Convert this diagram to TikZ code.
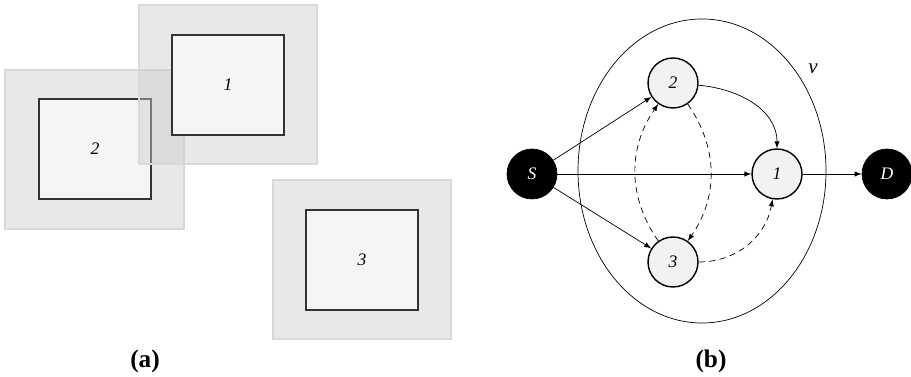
\documentclass[tikz,border=0pt]{standalone}
\usepackage{fontspec}
\setmainfont{Liberation Serif}
\usetikzlibrary{arrows,arrows.meta,positioning}

\tikzset{
    zona/.style={draw=black!15, fill=black!20, fill opacity=0.45, line width=0.6pt},
    cella/.style={draw=black!80, fill=black!4, line width=0.7pt},
    nodo/.style={draw, circle, thick, minimum size=1.0cm, inner sep=0pt, fill=black!5, font=\itshape},
    estremo/.style={draw, circle, minimum size=1.0cm, inner sep=0pt, fill=black, text=white, font=\itshape},
    tratto/.style={->, dashed, dash pattern=on 3.5pt off 2.5pt}
}

\begin{document}
\begin{tikzpicture}[>=latex, x=0.02cm, y=-0.02cm]
    \useasboundingbox (0,0) rectangle (911,377);

    % (a) Zona della cella 2
    \fill[zona] (5,70) rectangle (184,229);
    \node[cella, minimum width=2.24cm, minimum height=2.0cm] (c2) at (95,149) {};
    \node[font=\itshape] at (c2) {2};

    % (a) Zona della cella 1 (sovrapposta alla 2)
    \fill[zona] (139,5) rectangle (317,164);
    \node[cella, minimum width=2.24cm, minimum height=2.0cm] (c1) at (228,85) {};
    \node[font=\itshape] at (c1) {1};

    % (a) Zona della cella 3
    \fill[zona] (273,180) rectangle (451,339);
    \node[cella, minimum width=2.24cm, minimum height=2.0cm] (c3) at (362,260) {};
    \node[font=\itshape] at (c3) {3};

    \node[font=\bfseries\Large] (capa) at (145,361) {(a)};

    % (b) Insieme v
    \draw[thin] (702,171) ellipse (124 and 152);
    \node[font=\itshape\large] (v) at (813,69) {v};

    % (b) Sorgente, destinazione e nodi intermedi
    \node[estremo] (S) at (532,174) {S};
    \node[estremo] (D) at (887,174) {D};
    \node[nodo] (n2) at (673,83) {2};
    \node[nodo] (n1) at (777,174) {1};
    \node[nodo] (n3) at (673,262) {3};

    % Collegamenti diretti
    \draw[->] (S) -- (n2);
    \draw[->] (S) -- (n3);
    \draw[->] (S) -- (n1);
    \draw[->] (n1) -- (D);
    \draw[->] (n2) to[out=-5, in=90] (n1);

    % Collegamenti tratteggiati
    \draw[tratto] (n2) to[bend left=35] (n3);
    \draw[tratto] (n3) to[bend left=35] (n2);
    \draw[tratto] (n3) to[out=0, in=-100] (n1);

    \node[font=\bfseries\Large] (capb) at (711,361) {(b)};
\end{tikzpicture}
\end{document}
